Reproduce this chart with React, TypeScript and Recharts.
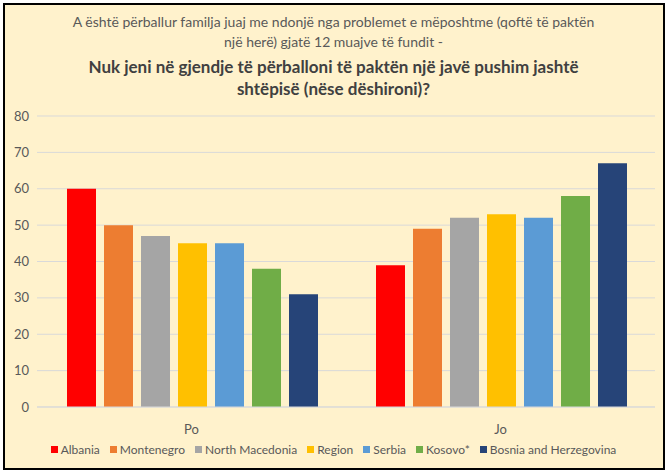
import React from 'react';
import { BarChart, Bar, XAxis, YAxis, CartesianGrid } from 'recharts';

const categories = ['Po', 'Jo'];
const countries = ['Albania', 'Montenegro', 'North Macedonia', 'Region', 'Serbia', 'Kosovo*', 'Bosnia and Herzegovina'];
const albania = [60, 39];
const montenegro = [50, 49];
const northMacedonia = [47, 52];
const region = [45, 53];
const serbia = [45, 52];
const kosovo = [38, 58];
const bosnia = [31, 67];
const yTicks = [0, 10, 20, 30, 40, 50, 60, 70, 80];

const seriesValues = [albania, montenegro, northMacedonia, region, serbia, kosovo, bosnia];
const colors = ['#FF0000', '#ED7D31', '#A5A5A5', '#FFC000', '#5B9BD5', '#70AD47', '#264478'];

const data = categories.map((name, i) => {
  const row: Record<string, string | number> = { name };
  countries.forEach((c, j) => {
    row[c] = seriesValues[j][i];
  });
  return row;
});

const font = 'Lato, "Open Sans", sans-serif';

function LegendContent() {
  return (
    <div style={{ display: 'flex', justifyContent: 'center', gap: 10, fontFamily: font, fontSize: 12, color: '#595959' }}>
      {countries.map((c, i) => (
        <div key={c} style={{ display: 'flex', alignItems: 'center' }}>
          <span style={{ width: 7, height: 7, background: colors[i], display: 'inline-block', marginRight: 3 }} />
          <span>{c}</span>
        </div>
      ))}
    </div>
  );
}

export default function App() {
  return (
    <div style={{ position: 'absolute', left: 0, top: 0, width: 667, height: 473, background: '#fff' }}>
      <div
        style={{
          position: 'absolute',
          left: 3,
          top: 3,
          width: 658,
          height: 463,
          border: '2px solid #000',
          background: '#FFF2CC',
        }}
      />
      <div
        style={{
          position: 'absolute',
          left: 0,
          top: 12,
          width: 667,
          textAlign: 'center',
          fontFamily: font,
          color: '#595959',
          whiteSpace: 'nowrap',
        }}
      >
        <div style={{ fontSize: 14, lineHeight: '20px' }}>
          A është përballur familja juaj me ndonjë nga problemet e mëposhtme (qoftë të paktën
          <br />
          një herë) gjatë 12 muajve të fundit -
        </div>
        <div style={{ fontSize: 17, lineHeight: '22px', fontWeight: 'bold', color: '#404040', marginTop: 4 }}>
          Nuk jeni në gjendje të përballoni të paktën një javë pushim jashtë
          <br />
          shtëpisë (nëse dëshironi)?
        </div>
      </div>
      <div style={{ position: 'absolute', left: 0, top: 0 }}>
        <BarChart
          width={667}
          height={473}
          data={data}
          margin={{ top: 116, right: 12, left: 7, bottom: 36 }}
          barCategoryGap={30}
          barGap={8}
        >
          <CartesianGrid vertical={false} stroke="#D9D9D9" />
          <XAxis
            dataKey="name"
            axisLine={{ stroke: '#D9D9D9' }}
            tickLine={false}
            tick={{ fill: '#595959', fontSize: 13, fontFamily: font }}
            tickMargin={12}
            height={30}
          />
          <YAxis
            domain={[0, 80]}
            ticks={yTicks}
            axisLine={false}
            tickLine={false}
            tick={{ fill: '#595959', fontSize: 13, fontFamily: font }}
            width={30}
          />
          {countries.map((c, i) => (
            <Bar key={c} dataKey={c} fill={colors[i]} isAnimationActive={false} />
          ))}
        </BarChart>
      </div>
      <div style={{ position: 'absolute', left: 0, top: 442, width: 667 }}>
        <LegendContent />
      </div>
    </div>
  );
}
